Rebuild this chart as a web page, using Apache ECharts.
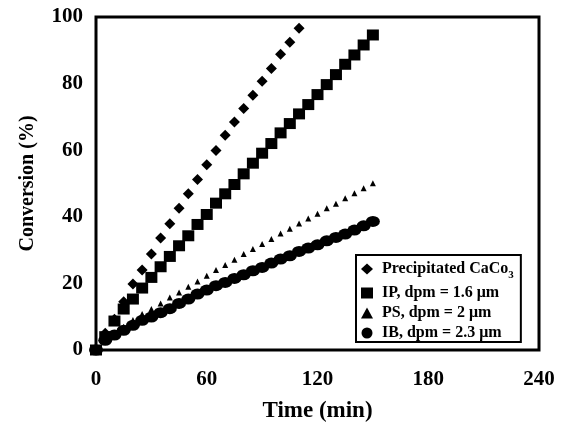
<!DOCTYPE html>
<html>
<head>
<meta charset="utf-8">
<script src="https://cdn.jsdelivr.net/npm/echarts@6/dist/echarts.min.js"></script>
<style>
  html, body { margin: 0; padding: 0; background: #fff; }
  #chart { width: 565px; height: 431px; }
</style>
</head>
<body>
<div id="chart"></div>
<script>
// Sampling times (min)
const times = [0, 5, 10, 15, 20, 25, 30, 35, 40, 45, 50, 55, 60, 65, 70, 75,
               80, 85, 90, 95, 100, 105, 110, 115, 120, 125, 130, 135, 140, 145, 150];

// Conversion (%) for each sample
const precipitated = [0, 5, 9.2, 14.5, 19.8, 24, 28.8, 33.6, 37.9, 42.6, 46.9, 51.2,
                      55.6, 59.9, 64.5, 68.5, 72.5, 76.5, 80.7, 84.5, 88.8, 92.4, 96.6];
const ip = [0, 4, 8.7, 12.3, 15.3, 18.6, 21.8, 25, 28.1, 31.3, 34.3, 37.7, 40.7, 44.1,
            46.9, 49.7, 52.9, 56.1, 59.1, 62, 65.2, 68, 70.9, 73.7, 76.7, 79.7, 82.7,
            85.8, 88.6, 91.6, 94.6];
const ps = [0, 3, 5, 7, 9, 10.8, 12.3, 14, 15.8, 17.3, 19, 20.6, 22.3, 24, 25.5, 27.1,
            28.8, 30.3, 31.8, 33.3, 35, 36.4, 38, 39.5, 40.9, 42.6, 43.9, 45.6, 47.1,
            48.6, 50.1];
const ib = [0, 2.9, 4.5, 5.9, 7.4, 8.9, 9.9, 11.2, 12.4, 14, 15.3, 16.8, 18, 19.3, 20.3,
            21.5, 22.6, 23.8, 24.8, 26.1, 27.3, 28.3, 29.6, 30.6, 31.6, 32.8, 33.8, 34.8,
            36, 37.3, 38.6];

const seriesNames = ['Precipitated CaCo3', 'IP, dpm = 1.6 μm', 'PS, dpm = 2 μm', 'IB, dpm = 2.3 μm'];
const xTicks = [0, 60, 120, 180, 240];
const yTicks = [0, 20, 40, 60, 80, 100];

const FONT = '"Liberation Serif", "Times New Roman", serif';

function pairs(vals) {
  return vals.map((v, i) => [times[i], v]);
}

const chart = echarts.init(document.getElementById('chart'), null, { renderer: 'canvas' });

const markers = [
  { symbol: 'diamond', size: [11, 11], data: precipitated },
  { symbol: 'rect', size: [12, 11], data: ip },
  { symbol: 'triangle', size: [6, 6], data: ps },
  { symbol: 'circle', size: [14, 11], data: ib }
];

chart.setOption({
  animation: false,
  backgroundColor: '#fff',
  grid: {
    left: 96, right: 26, top: 17, bottom: 81,
    show: true, borderColor: '#000', borderWidth: 3, backgroundColor: 'transparent'
  },
  xAxis: {
    type: 'value',
    min: xTicks[0], max: xTicks[xTicks.length - 1], interval: xTicks[1] - xTicks[0],
    name: 'Time (min)', nameLocation: 'middle', nameGap: 50,
    nameTextStyle: { fontFamily: FONT, fontWeight: 'bold', fontSize: 23, color: '#000' },
    axisLine: { show: false }, axisTick: { show: false }, splitLine: { show: false },
    axisLabel: { margin: 19, fontFamily: FONT, fontWeight: 'bold', fontSize: 21, color: '#000' }
  },
  yAxis: {
    type: 'value',
    min: yTicks[0], max: yTicks[yTicks.length - 1], interval: yTicks[1] - yTicks[0],
    name: 'Conversion (%)', nameLocation: 'middle', nameGap: 58,
    nameTextStyle: { fontFamily: FONT, fontWeight: 'bold', fontSize: 20, color: '#000' },
    axisLine: { show: false }, axisTick: { show: false }, splitLine: { show: false },
    axisLabel: { margin: 13, fontFamily: FONT, fontWeight: 'bold', fontSize: 21, color: '#000' }
  },
  legend: {
    orient: 'vertical',
    left: 356, top: 255,
    backgroundColor: '#fff', borderColor: '#000', borderWidth: 2,
    padding: [6, 7, 1, 5],
    itemGap: 4, itemWidth: 12, itemHeight: 11,
    data: seriesNames,
    formatter: function (name) {
      if (name.endsWith('CaCo3')) {
        return '{g|}{t|' + name.slice(0, -1) + '}{s|3}';
      }
      return '{g|}{t|' + name + '}';
    },
    textStyle: {
      fontFamily: FONT, fontWeight: 'bold', fontSize: 16, lineHeight: 16, color: '#000',
      rich: {
        g: { width: 4 },
        t: { fontFamily: FONT, fontWeight: 'bold', fontSize: 16, lineHeight: 16, color: '#000' },
        s: { fontFamily: FONT, fontWeight: 'bold', fontSize: 11, lineHeight: 11,
             verticalAlign: 'bottom', padding: [0, 0, -4, 0], color: '#000' }
      }
    }
  },
  series: markers.map((m, i) => ({
    name: seriesNames[i],
    type: 'scatter',
    symbol: m.symbol,
    symbolSize: m.size,
    itemStyle: { color: '#000', opacity: 1 },
    emphasis: { disabled: true },
    data: pairs(m.data)
  }))
});
</script>
</body>
</html>
